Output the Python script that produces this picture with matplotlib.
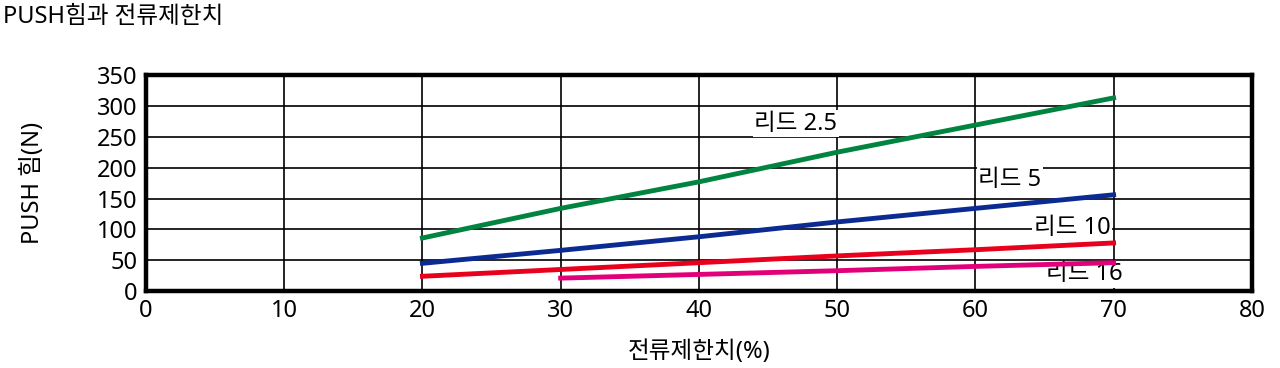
import numpy as np
import matplotlib.pyplot as plt

plt.rcParams['font.family'] = ['Noto Sans', 'Noto Sans CJK KR', 'DejaVu Sans']

# 데이터
x_a = [20, 30, 40, 50, 60, 70]
x_b = [30, 40, 50, 60, 70]
lead_25 = [86, 134, 177, 225, 269, 313]
lead_5 = [45, 66, 88, 112, 134, 156]
lead_10 = [24, 35, 46, 57, 67, 78]
lead_16 = [21, 27, 33, 40, 46]

labels = ['리드 2.5', '리드 5', '리드 10', '리드 16']
label_pos = [(47.0, 271), (62.5, 180), (67.0, 102), (67.9, 27)]

fig = plt.figure(figsize=(12.8, 3.68), dpi=100)
ax = fig.add_axes([0.114, 0.209, 0.864, 0.587])

ax.plot(x_a, lead_25, color='#00843f', lw=3.5, zorder=3)
ax.plot(x_a, lead_5, color='#0b2b93', lw=3.5, zorder=3)
ax.plot(x_a, lead_10, color='#e8001c', lw=3.5, zorder=3)
ax.plot(x_b, lead_16, color='#e2007a', lw=3.5, zorder=3)

# 라벨 (흰 배경)
for txt, (tx, ty) in zip(labels, label_pos):
   ax.text(tx, ty, txt, fontsize=17, ha='center', va='center', zorder=2.5,
           bbox=dict(facecolor='white', edgecolor='none', pad=1))

ax.set_xlim(0, 80)
ax.set_ylim(0, 350)
ax.set_xticks(np.arange(0, 81, 10))
ax.set_yticks(np.arange(0, 351, 50))
ax.grid(True, color='black', lw=1.2)
ax.tick_params(length=0, labelsize=17, pad=6)
for s in ax.spines.values():
   s.set_linewidth(3.2)

ax.set_xlabel('전류제한치(%)', fontsize=17)
ax.set_ylabel('PUSH 힘(N)', fontsize=17)
ax.xaxis.set_label_coords(0.5, -0.225)
ax.yaxis.set_label_coords(-0.091, 0.5)

fig.text(0.002, 0.953, 'PUSH힘과 전류제한치', fontsize=17, ha='left', va='center')

plt.savefig('out.png', dpi=100)
